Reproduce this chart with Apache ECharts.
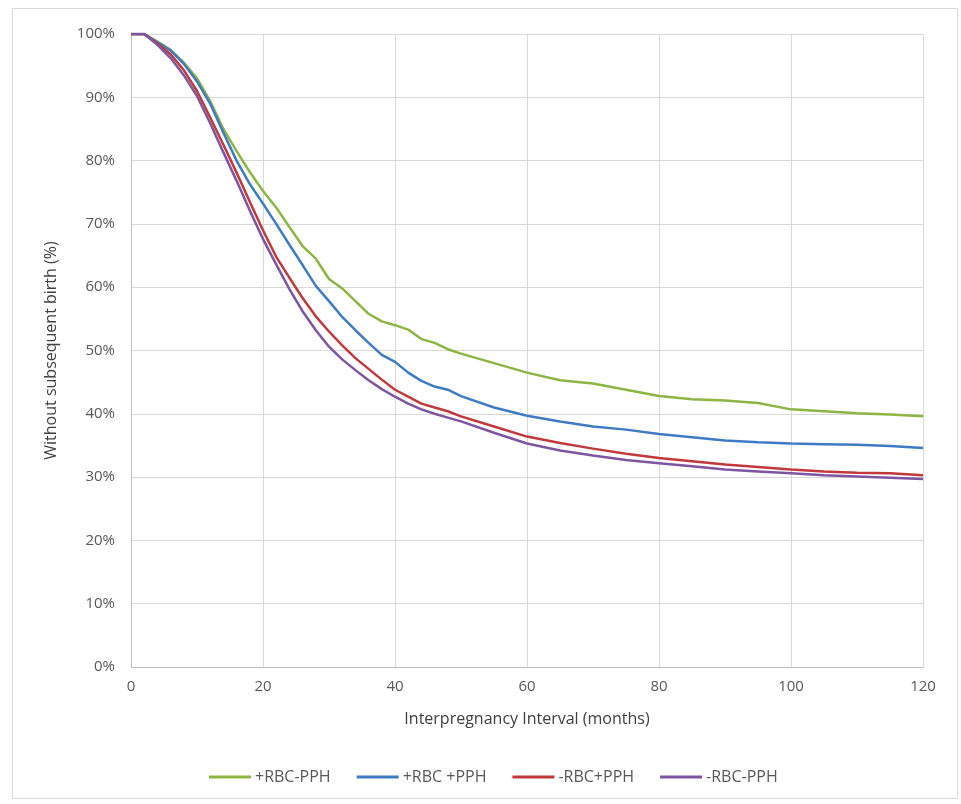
<!DOCTYPE html>
<html><head><meta charset="utf-8">
<script src="https://cdn.jsdelivr.net/npm/echarts@6/dist/echarts.min.js"></script>
<style>html,body{margin:0;padding:0;background:#fff}#c{width:961px;height:804px}</style>
</head><body><div id="c"></div>
<script>
const months = [0,2,4,6,8,10,12,14,16,18,20,22,24,26,28,30,32,34,36,38,40,42,44,46,48,50,55,60,65,70,75,80,85,90,95,100,105,110,115,120];
const seriesNames = ['+RBC-PPH','+RBC +PPH','-RBC+PPH','-RBC-PPH'];
const greenVals = [100,100,98.8,97.5,95.5,93,89.4,85,81.5,78.2,75.2,72.6,69.5,66.5,64.5,61.3,59.8,57.8,55.8,54.6,54.0,53.3,51.8,51.2,50.2,49.5,48.0,46.5,45.3,44.8,43.8,42.8,42.3,42.1,41.7,40.7,40.4,40.1,39.9,39.6];
const blueVals = [100,100,98.7,97.4,95.3,92.5,89,84.4,80,76.3,73.2,70,66.7,63.5,60.2,57.8,55.3,53.2,51.2,49.3,48.2,46.5,45.2,44.3,43.8,42.8,41,39.7,38.8,38,37.5,36.8,36.3,35.8,35.5,35.3,35.2,35.1,34.9,34.6];
const redVals = [100,100,98.5,96.8,94.3,91,86.8,82.5,78.1,73.5,69,64.8,61.5,58.3,55.4,53,50.8,48.8,47.1,45.4,43.8,42.7,41.6,41.0,40.4,39.6,38.0,36.4,35.4,34.5,33.7,33.0,32.5,32.0,31.6,31.2,30.9,30.7,30.6,30.3];
const purpleVals = [100,100,98.3,96.2,93.5,90.2,85.9,81.3,76.8,72.1,67.6,63.6,59.7,56.2,53.2,50.6,48.6,46.9,45.3,43.9,42.7,41.6,40.7,40,39.4,38.8,37,35.3,34.2,33.4,32.7,32.2,31.7,31.2,30.9,30.6,30.3,30.1,29.9,29.7];
const colors = ['#8DB543','#3F7BC4','#C1393C','#7E55A1'];
const allVals = [greenVals, blueVals, redVals, purpleVals];

const chart = echarts.init(document.getElementById('c'));
const font = 'Open Sans, Noto Sans, sans-serif';
chart.setOption({
  animation:false,
  backgroundColor:'#fff',
  graphic:[{type:'rect',shape:{x:12.5,y:8.5,width:945,height:790},style:{fill:'none',stroke:'#d9d9d9',lineWidth:1}}],
  grid:{left:131,right:38,top:34,bottom:137},
  legend:{bottom:14,left:204,itemWidth:42,itemHeight:3,itemGap:26,icon:'rect',
    textStyle:{color:'#595959',fontSize:16,fontFamily:font,padding:[0,0,0,-1]},
    data:seriesNames},
  xAxis:{type:'value',min:0,max:120,interval:20,
    name:'Interpregnancy Interval (months)',nameLocation:'middle',nameGap:44,
    nameTextStyle:{color:'#404040',fontSize:16,fontFamily:font},
    axisLine:{lineStyle:{color:'#bfbfbf'}},axisTick:{show:false},
    axisLabel:{color:'#595959',fontSize:15,fontFamily:font,margin:12},
    splitLine:{show:true,lineStyle:{color:'#d9d9d9'}}},
  yAxis:{type:'value',min:0,max:100,interval:10,
    name:'Without subsequent birth (%)',nameLocation:'middle',nameGap:72,
    nameTextStyle:{color:'#404040',fontSize:16,fontFamily:font},
    axisLine:{show:true,lineStyle:{color:'#bfbfbf'}},axisTick:{show:false},
    axisLabel:{color:'#595959',fontSize:15,fontFamily:font,margin:16,formatter:'{value}%'},
    splitLine:{lineStyle:{color:'#d9d9d9'}}},
  series: seriesNames.map((n,i)=>({
    name:n,type:'line',showSymbol:false,smooth:false,
    lineStyle:{color:colors[i],width:2.5},itemStyle:{color:colors[i]},
    data: months.map((m,j)=>[m, allVals[i][j]])
  }))
});
</script></body></html>
